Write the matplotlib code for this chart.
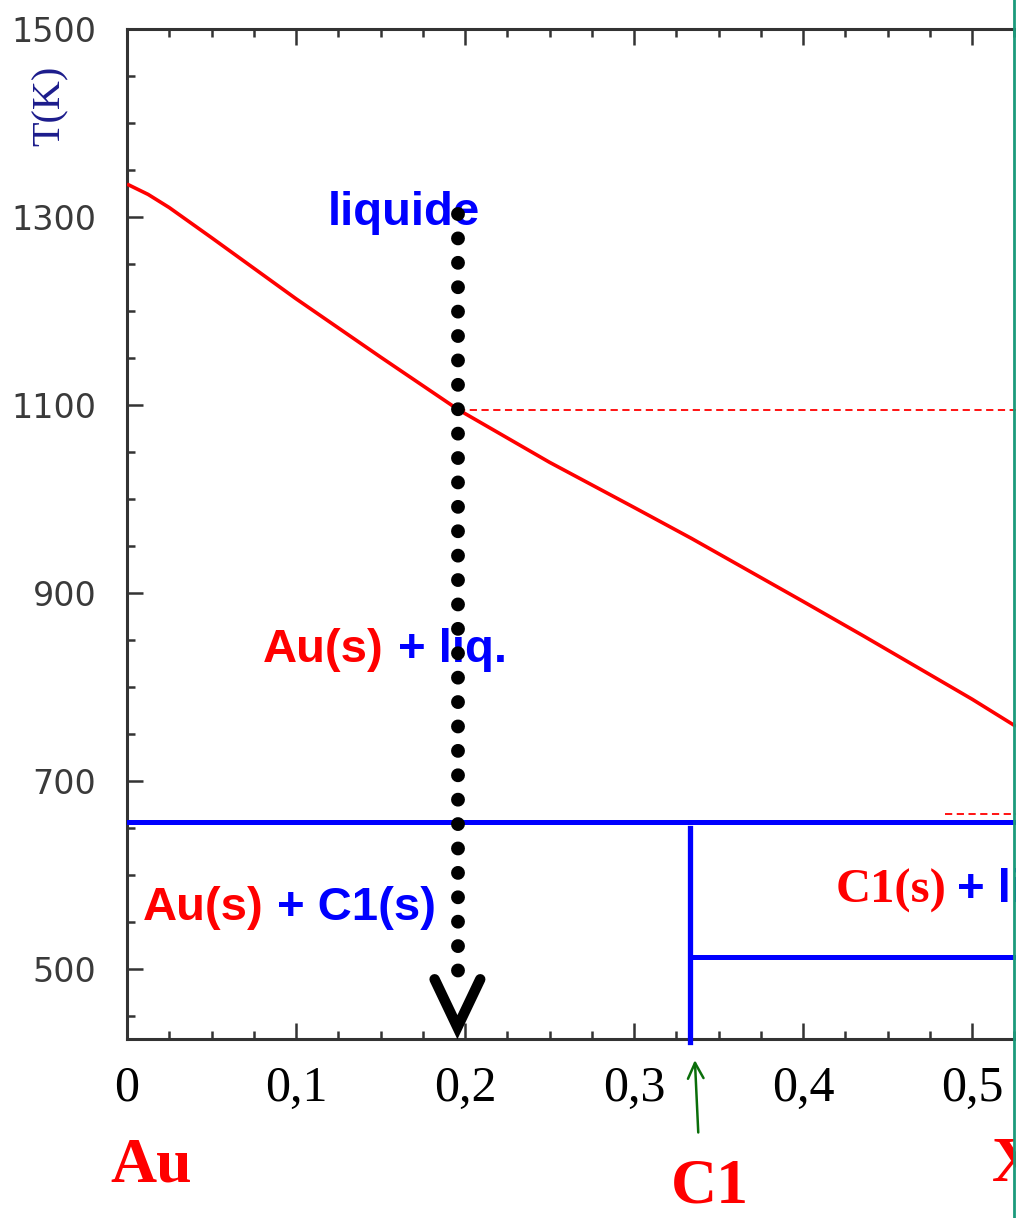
"""
Au - X phase diagram (Au-rich part): liquidus, eutectic, compound C1,
cooling path of a x=0.2 liquid.
"""

import matplotlib.pyplot as plt
import matplotlib.lines as mlines
from matplotlib.ticker import FixedLocator, MultipleLocator

# liquidus of Au
liq_x = [0, 0.0125, 0.025, 0.05, 0.1, 0.15, 0.196, 0.25, 0.3, 0.334, 0.4, 0.436, 0.5, 0.526]
liq_T = [1335, 1324, 1310, 1278, 1213, 1151, 1095, 1039, 991, 958, 891, 854, 787, 758]

# horizontal / vertical invariants
T_eutectic = 656
T_low = 513
x_C1 = 1 / 3
T_C1_top = 650

# cooling path at x = 0.196
x_path = 0.196
T_path_top = 1303
T_path_end = 476
T_liq_hit = 1095
T_dash2 = 665
x_dash2 = 0.484

x_ticks = [0, 0.1, 0.2, 0.3, 0.4, 0.5]
x_ticklabels = ['0', '0,1', '0,2', '0,3', '0,4', '0,5']
y_ticks = [500, 700, 900, 1100, 1300, 1500]

X_MAX = 0.526
T_MIN, T_MAX = 425.5, 1500

RED = '#ff0000'
BLUE = '#0000ff'
SANS = 'Liberation Sans'
SERIF = 'Liberation Serif'


def main():
    fig = plt.figure(figsize=(10.16, 12.18), dpi=100)
    ax = fig.add_axes([0.125, 0.147, 0.875, 0.8292])
    ax.set_xlim(0, X_MAX)
    ax.set_ylim(T_MIN, T_MAX)

    # frame
    ax.spines['right'].set_visible(False)
    for s in ['left', 'top', 'bottom']:
        ax.spines[s].set_linewidth(2.2)
        ax.spines[s].set_color('#333333')

    ax.xaxis.set_major_locator(FixedLocator(x_ticks))
    ax.xaxis.set_minor_locator(MultipleLocator(0.025))
    ax.yaxis.set_major_locator(FixedLocator(y_ticks))
    ax.yaxis.set_minor_locator(MultipleLocator(50))
    ax.set_xticklabels(x_ticklabels, fontfamily=SERIF, fontsize=36, color='black')
    ax.set_yticklabels([str(v) for v in y_ticks], fontfamily='DejaVu Sans',
                       fontsize=24, color='#3a3a3a')
    ax.tick_params(which='both', direction='in', top=True, color='#333333')
    ax.tick_params(which='major', length=11.5, width=1.8)
    ax.tick_params(which='minor', length=5.5, width=1.8)
    ax.tick_params(axis='y', which='major', pad=22)
    ax.tick_params(axis='x', which='major', pad=19)

    # liquidus
    ax.plot(liq_x, liq_T, color=RED, linewidth=2.6, solid_capstyle='butt',
            solid_joinstyle='round', zorder=3)

    # eutectic and C1 lines
    ax.plot([0, X_MAX], [T_eutectic, T_eutectic], color=BLUE, linewidth=3.6, zorder=3)
    ax.plot([x_C1, x_C1], [T_C1_top, T_MIN - 3], color=BLUE, linewidth=3.8,
            clip_on=False, zorder=3)
    ax.plot([x_C1, X_MAX], [T_low, T_low], color=BLUE, linewidth=3.6, zorder=3)

    # red dashed guides
    ax.plot([x_path, X_MAX], [T_liq_hit, T_liq_hit], color=RED, linewidth=1.3,
            dashes=(4, 2.5), zorder=2)
    ax.plot([x_dash2, X_MAX], [T_dash2, T_dash2], color=RED, linewidth=1.3,
            dashes=(4, 2.5), zorder=2)

    # cooling path: big round dots + chevron
    ax.plot([x_path, x_path], [T_path_top, T_path_end], color='black', linewidth=10,
            linestyle=(0, (0.001, 1.756)), dash_capstyle='round', zorder=5)
    ax.plot([0.182, 0.1955, 0.209], [489, 438, 489], color='black', linewidth=7.5,
            solid_capstyle='round', solid_joinstyle='miter', zorder=5)

    # region labels
    ax.text(0.119, 1291, 'liquide', color=BLUE, fontfamily=SANS, fontweight='bold',
            fontsize=34, va='baseline', ha='left', zorder=4)
    ax.text(0.0805, 827, 'Au(s)', color=RED, fontfamily=SANS, fontweight='bold',
            fontsize=34, va='baseline', ha='left', zorder=4)
    ax.text(0.1604, 827, '+ liq.', color=BLUE, fontfamily=SANS, fontweight='bold',
            fontsize=34, va='baseline', ha='left', zorder=4)
    ax.text(0.0095, 552, 'Au(s)', color=RED, fontfamily=SANS, fontweight='bold',
            fontsize=34, va='baseline', ha='left', zorder=4)
    ax.text(0.0888, 552, '+ C1(s)', color=BLUE, fontfamily=SANS, fontweight='bold',
            fontsize=34, va='baseline', ha='left', zorder=4)
    ax.text(0.419, 571, 'C1(s)', color=RED, fontfamily=SERIF, fontweight='bold',
            fontsize=35, va='baseline', ha='left', zorder=4)
    ax.text(0.491, 571, '+ li', color=BLUE, fontfamily=SANS, fontweight='bold',
            fontsize=34, va='baseline', ha='left', zorder=4, clip_on=True)

    # axis title
    ax.text(-0.0456, 1418, 'T(K)', color='#1c1c8c', fontfamily=SERIF, fontsize=29,
            rotation=90, ha='center', va='center', clip_on=False)

    # component / compound names under the axis
    ax.text(-0.0100, 274, 'Au', color=RED, fontfamily=SERIF, fontweight='bold',
            fontsize=46, ha='left', va='baseline', clip_on=False)
    ax.text(0.322, 252, 'C1', color=RED, fontfamily=SERIF, fontweight='bold',
            fontsize=46, ha='left', va='baseline', clip_on=False)
    ax.text(0.512, 274, 'X', color=RED, fontfamily=SERIF, fontweight='bold',
            fontsize=46, ha='left', va='baseline', clip_on=False)

    # green arrow pointing at C1
    ax.annotate('', xy=(0.336, 403), xytext=(0.338, 326),
                arrowprops=dict(arrowstyle='->', color='#0a6e0a', lw=1.8,
                                mutation_scale=28, shrinkA=0, shrinkB=0),
                annotation_clip=False)

    # teal border line on the right edge
    fig.add_artist(mlines.Line2D([1014 / 1016, 1014 / 1016], [0, 1],
                                 transform=fig.transFigure, color='#1b9a7c',
                                 linewidth=2))

    fig.savefig('out.png', dpi=100)
    plt.close(fig)


if __name__ == '__main__':
    main()
